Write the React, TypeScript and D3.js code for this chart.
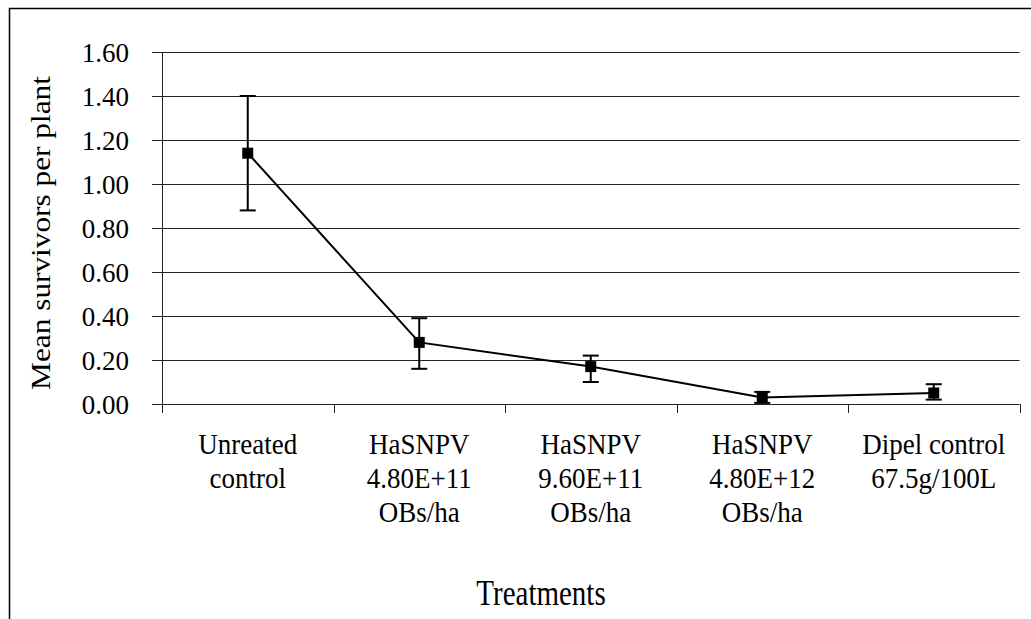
import React, { useEffect, useRef } from "react";
import * as d3 from "d3";

// treatments on the x axis, each one split over several lines
const categories = [
  ["Unreated", "control"],
  ["HaSNPV", "4.80E+11", "OBs/ha"],
  ["HaSNPV", "9.60E+11", "OBs/ha"],
  ["HaSNPV", "4.80E+12", "OBs/ha"],
  ["Dipel control", "67.5g/100L"],
];
const means = [1.14, 0.28, 0.17, 0.03, 0.05];
const upper = [1.4, 0.39, 0.22, 0.055, 0.09];
const lower = [0.88, 0.16, 0.1, 0.005, 0.02];
const yTicks = [0, 0.2, 0.4, 0.6, 0.8, 1.0, 1.2, 1.4, 1.6];

const FONT = "Liberation Serif";

export default function App() {
  const ref = useRef<SVGSVGElement>(null);

  useEffect(() => {
    const width = 1031, height = 619;
    const left = 162, right = 1019.5, top = 52, bottom = 404;

    const svg = d3.select(ref.current);
    svg.selectAll("*").remove();

    var x = d3.scaleBand<number>()
      .domain(d3.range(categories.length))
      .range([left, right]);

    var y = d3.scaleLinear()
      .domain([0, 1.6])
      .range([bottom, top]);

    // outer frame (only top and left edges show)
    svg.append("path")
      .attr("d", `M9.5,${height} L9.5,8.5 L${width},8.5`)
      .attr("fill", "none")
      .attr("stroke", "#000")
      .attr("stroke-width", 1.5);

    // gridlines + y ticks
    svg.append("g")
      .selectAll("line")
      .data(yTicks)
      .join("line")
      .attr("x1", left - 10)
      .attr("x2", right)
      .attr("y1", (d) => Math.round(y(d)) + 0.5)
      .attr("y2", (d) => Math.round(y(d)) + 0.5)
      .attr("stroke", "#222")
      .attr("stroke-width", 1);

    svg.append("g")
      .selectAll("text")
      .data(yTicks)
      .join("text")
      .attr("transform", (d) => `translate(129,${y(d) + 10}) scale(1,1.01)`)
      .attr("text-anchor", "end")
      .style("font-family", FONT)
      .style("font-size", "27px")
      .text((d) => d.toFixed(2));

    // y axis line
    svg.append("line")
      .attr("x1", left + 0.5).attr("x2", left + 0.5)
      .attr("y1", top).attr("y2", bottom + 9)
      .attr("stroke", "#222");

    // x tick marks at category boundaries
    const bounds = d3.range(categories.length + 1).map((i) =>
      i < categories.length ? x(i)! : right
    );
    svg.append("g")
      .selectAll("line")
      .data(bounds)
      .join("line")
      .attr("x1", (d) => Math.round(d) + 0.5)
      .attr("x2", (d) => Math.round(d) + 0.5)
      .attr("y1", bottom)
      .attr("y2", bottom + 9)
      .attr("stroke", "#222");

    // category labels
    const cx = (i: number) => x(i)! + x.bandwidth() / 2;
    const lab = svg.append("g");
    categories.forEach((lines, i) => {
      lines.forEach((t, j) => {
        lab.append("text")
          .attr("transform", `translate(${cx(i)},${454 + j * 34}) scale(1,1.08)`)
          .attr("text-anchor", "middle")
          .style("font-family", FONT)
          .style("font-size", "27px")
          .text(t);
      });
    });

    // connecting line
    const line = d3.line<number>()
      .x((d, i) => cx(i))
      .y((d) => y(d));
    svg.append("path")
      .datum(means)
      .attr("d", line)
      .attr("fill", "none")
      .attr("stroke", "#000")
      .attr("stroke-width", 2);

    // error bars
    const eb = svg.append("g").attr("stroke", "#000").attr("stroke-width", 2);
    means.forEach((m, i) => {
      const px = cx(i);
      eb.append("line")
        .attr("x1", px).attr("x2", px)
        .attr("y1", y(upper[i])).attr("y2", y(lower[i]));
      [upper[i], lower[i]].forEach((v) => {
        eb.append("line")
          .attr("x1", px - 8).attr("x2", px + 8)
          .attr("y1", y(v)).attr("y2", y(v));
      });
    });

    // square markers
    svg.append("g")
      .selectAll("rect")
      .data(means)
      .join("rect")
      .attr("x", (d, i) => cx(i) - 5.5)
      .attr("y", (d) => y(d) - 5.5)
      .attr("width", 11)
      .attr("height", 11)
      .attr("fill", "#000");

    // axis titles
    svg.append("text")
      .attr("transform", "translate(50,233) rotate(-90) scale(1.16,1)")
      .attr("text-anchor", "middle")
      .style("font-family", FONT)
      .style("font-size", "27px")
      .text("Mean survivors per plant");

    svg.append("text")
      .attr("transform", "translate(541,605) scale(1,1.2)")
      .attr("text-anchor", "middle")
      .style("font-family", FONT)
      .style("font-size", "29px")
      .text("Treatments");
  }, []);

  return (
    <div style={{ position: "absolute", left: 0, top: 0 }}>
      <svg ref={ref} width={1031} height={619} style={{ display: "block", background: "#fff" }}></svg>
    </div>
  );
}
